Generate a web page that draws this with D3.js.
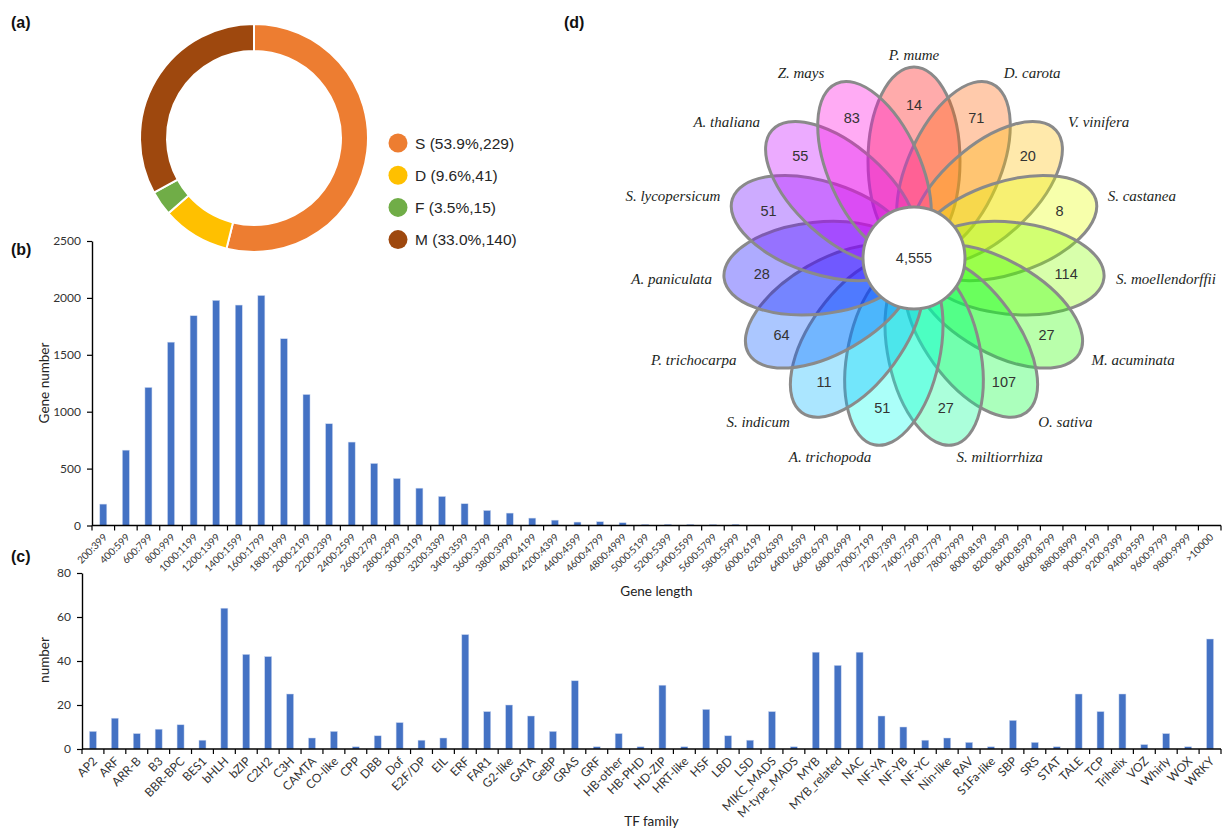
<!DOCTYPE html>
<html>
<head>
<meta charset="utf-8">
<script src="https://cdn.jsdelivr.net/npm/d3@7"></script>
<style>
  body { margin: 0; background: #fff; }
  svg { display: block; }
</style>
</head>
<body>
<svg id="fig" width="1222" height="828"></svg>
<script>
// ---- (a) duplication types
const dupTypes = ["S", "D", "F", "M"];
const dupCounts = [229, 41, 15, 140];
const dupLabels = ["S (53.9%,229)", "D (9.6%,41)", "F (3.5%,15)", "M (33.0%,140)"];
const dupColors = ["#ED7D31", "#FFC000", "#70AD47", "#9E480E"];

// ---- (b) gene length distribution
const lengthBins = ["200:399", "400:599", "600:799", "800:999", "1000:1199", "1200:1399", "1400:1599",
  "1600:1799", "1800:1999", "2000:2199", "2200:2399", "2400:2599", "2600:2799", "2800:2999",
  "3000:3199", "3200:3399", "3400:3599", "3600:3799", "3800:3999", "4000:4199", "4200:4399",
  "4400:4599", "4600:4799", "4800:4999", "5000:5199", "5200:5399", "5400:5599", "5600:5799",
  "5800:5999", "6000:6199", "6200:6399", "6400:6599", "6600:6799", "6800:6999", "7000:7199",
  "7200:7399", "7400:7599", "7600:7799", "7800:7999", "8000:8199", "8200:8399", "8400:8599",
  "8600:8799", "8800:8999", "9000:9199", "9200:9399", "9400:9599", "9600:9799", "9800:9999", ">10000"];
const lengthCounts = [188, 662, 1213, 1611, 1843, 1978, 1937, 2021, 1641, 1151, 894, 733, 545, 413,
  328, 255, 191, 132, 109, 65, 47, 30, 33, 24, 9, 10, 9, 8, 10, 3, 2, 2, 1, 1, 1, 0, 0, 0, 0, 0,
  0, 0, 0, 0, 0, 0, 0, 0, 0, 0];
const lengthTicks = [0, 500, 1000, 1500, 2000, 2500];

// ---- (c) TF families
const tfFamilies = ["AP2", "ARF", "ARR-B", "B3", "BBR-BPC", "BES1", "bHLH", "bZIP", "C2H2", "C3H",
  "CAMTA", "CO-like", "CPP", "DBB", "Dof", "E2F/DP", "EIL", "ERF", "FAR1", "G2-like", "GATA", "GeBP",
  "GRAS", "GRF", "HB-other", "HB-PHD", "HD-ZIP", "HRT-like", "HSF", "LBD", "LSD", "MIKC_MADS",
  "M-type_MADS", "MYB", "MYB_related", "NAC", "NF-YA", "NF-YB", "NF-YC", "Nin-like", "RAV",
  "S1Fa-like", "SBP", "SRS", "STAT", "TALE", "TCP", "Trihelix", "VOZ", "Whirly", "WOX", "WRKY"];
const tfCounts = [8, 14, 7, 9, 11, 4, 64, 43, 42, 25, 5, 8, 1, 6, 12, 4, 5, 52, 17, 20, 15, 8, 31, 1,
  7, 1, 29, 1, 18, 6, 4, 17, 1, 44, 38, 44, 15, 10, 4, 5, 3, 1, 13, 3, 1, 25, 17, 25, 2, 7, 1, 50];
const tfTicks = [0, 20, 40, 60, 80];

// ---- (d) flower plot
const species = ["P. mume", "D. carota", "V. vinifera", "S. castanea", "S. moellendorffii",
  "M. acuminata", "O. sativa", "S. miltiorrhiza", "A. trichopoda", "S. indicum", "P. trichocarpa",
  "A. paniculata", "S. lycopersicum", "A. thaliana", "Z. mays"];
const uniqueCounts = [14, 71, 20, 8, 114, 27, 107, 27, 51, 11, 64, 28, 51, 55, 83];
const coreCount = 4555;

const svg = d3.select("#fig");
const axisFont = "Lato, 'Liberation Sans', sans-serif";
const arialFont = "'Liberation Sans', Arial, sans-serif";
const barBlue = "#4472C4";

// panel letters
[["(a)", 11, 28], ["(b)", 11, 255], ["(c)", 11, 562], ["(d)", 564, 28]].forEach(([t, x, y]) => {
  svg.append("text").attr("x", x).attr("y", y).text(t)
    .style("font-family", arialFont).style("font-weight", "bold").style("font-size", "16px")
    .attr("fill", "#111");
});

// ================= (a) donut
const gA = svg.append("g").attr("transform", "translate(254,138)");
const pie = d3.pie().sort(null).value(d => d)(dupCounts);
const arc = d3.arc().innerRadius(87).outerRadius(114);
gA.selectAll("path")
  .data(pie)
  .join("path")
  .attr("d", arc)
  .attr("fill", (d, i) => dupColors[i])
  .attr("stroke", "#fff")
  .attr("stroke-width", 2);

const legend = svg.append("g").attr("transform", "translate(398,143)");
const legItem = legend.selectAll("g")
  .data(dupTypes)
  .join("g")
  .attr("transform", (d, i) => `translate(0,${i * 32.2})`);
legItem.append("circle").attr("r", 9.5).attr("fill", (d, i) => dupColors[i]);
legItem.append("text")
  .attr("x", 17).attr("dy", "0.36em")
  .text((d, i) => dupLabels[i])
  .style("font-family", arialFont).style("font-size", "15.5px")
  .attr("fill", "#262626");

// ================= bar panels
function barPanel(cfg) {
  const g = svg.append("g");
  const xb = d3.scaleBand().domain(cfg.cats).range([cfg.x0, cfg.x1]);
  const y = d3.scaleLinear().domain([0, cfg.yMax]).range([cfg.yBot, cfg.yTop]);
  const bw = 7;

  g.selectAll("rect")
    .data(cfg.vals)
    .join("rect")
    .attr("x", (d, i) => xb(cfg.cats[i]) + xb.bandwidth() / 2 - bw / 2)
    .attr("y", d => y(d))
    .attr("width", bw)
    .attr("height", d => cfg.yBot - y(d))
    .attr("fill", barBlue)
    .attr("stroke", "#c9d6ef")
    .attr("stroke-width", 0.5);

  // y axis
  const ya = g.append("g")
    .attr("transform", `translate(${cfg.x0},0)`)
    .call(d3.axisLeft(y).tickValues(cfg.yTicks).tickFormat(d3.format("d"))
      .tickSize(5).tickSizeOuter(0).tickPadding(6));
  ya.select(".domain").attr("stroke", "#000").attr("stroke-width", 1.4);
  ya.selectAll(".tick line").attr("stroke", "#000").attr("stroke-width", 1.2);
  ya.selectAll("text").style("font-family", axisFont).style("font-size", "12px").attr("fill", "#333");

  // x axis line + boundary ticks
  g.append("line")
    .attr("x1", cfg.x0).attr("x2", cfg.x1)
    .attr("y1", cfg.yBot).attr("y2", cfg.yBot)
    .attr("stroke", "#000").attr("stroke-width", 1.6);
  const bounds = cfg.cats.map(c => xb(c)).concat([cfg.x1]);
  g.selectAll(".xtick")
    .data(bounds)
    .join("line")
    .attr("class", "xtick")
    .attr("x1", d => d).attr("x2", d => d)
    .attr("y1", cfg.yBot).attr("y2", cfg.yBot + 5)
    .attr("stroke", "#000").attr("stroke-width", 1.2);

  // rotated category labels
  g.selectAll(".xlab")
    .data(cfg.cats)
    .join("text")
    .attr("class", "xlab")
    .attr("transform", d => `translate(${xb(d) + xb.bandwidth() / 2 + 2},${cfg.yBot + 10}) rotate(-45)`)
    .attr("text-anchor", "end")
    .attr("dy", "0.35em")
    .text(d => d)
    .style("font-family", axisFont).style("font-size", cfg.catSize)
    .attr("fill", "#333");

  // axis titles
  g.append("text")
    .attr("transform", `translate(44,${cfg.yLabelY}) rotate(-90)`)
    .attr("text-anchor", "middle").attr("dy", "0.35em")
    .text(cfg.yLabel)
    .style("font-family", axisFont).style("font-size", "13.5px").attr("fill", "#222");
  g.append("text")
    .attr("x", (cfg.x0 + cfg.x1) / 2).attr("y", cfg.xLabelY)
    .attr("text-anchor", "middle").attr("dy", "0.35em")
    .text(cfg.xLabel)
    .style("font-family", axisFont).style("font-size", "13.5px").attr("fill", "#222");
}

barPanel({
  cats: lengthBins, vals: lengthCounts, x0: 92, x1: 1221, yTop: 241, yBot: 525.5,
  yMax: 2500, yTicks: lengthTicks, yLabel: "Gene number", yLabelY: 383,
  xLabel: "Gene length", xLabelY: 591, catSize: "10px"
});

barPanel({
  cats: tfFamilies, vals: tfCounts, x0: 82, x1: 1221, yTop: 573, yBot: 749,
  yMax: 80, yTicks: tfTicks, yLabel: "number", yLabelY: 660,
  xLabel: "TF family", xLabelY: 821, catSize: "12px"
});

// ================= (d) flower
const fc = [914, 258];
const tipR = 191, petalD = 97, petalA = 94, petalB = 46, coreR = 51;
const step = 360 / species.length;
const rad = a => a * Math.PI / 180;

const gD = svg.append("g").attr("transform", `translate(${fc[0]},${fc[1]})`);

gD.selectAll("ellipse")
  .data(species)
  .join("ellipse")
  .attr("cx", 0).attr("cy", -petalD)
  .attr("rx", petalB).attr("ry", petalA)
  .attr("transform", (d, i) => `rotate(${i * step})`)
  .attr("fill", (d, i) => d3.hsl(i * 22, 1, 0.5).toString())
  .attr("fill-opacity", 0.33)
  .attr("stroke", "#8a8a8a")
  .attr("stroke-width", 3);

gD.append("circle").attr("r", coreR).attr("fill", "#fff")
  .attr("stroke", "#8a8a8a").attr("stroke-width", 3);
gD.append("text").attr("text-anchor", "middle").attr("dy", "0.35em")
  .text(d3.format(",")(coreCount))
  .style("font-family", arialFont).style("font-size", "14.5px").attr("fill", "#333");

// unique counts
gD.selectAll(".uc")
  .data(uniqueCounts)
  .join("text")
  .attr("class", "uc")
  .attr("x", (d, i) => 153 * Math.sin(rad(i * step)))
  .attr("y", (d, i) => -153 * Math.cos(rad(i * step)))
  .attr("text-anchor", "middle").attr("dy", "0.35em")
  .text(d => d)
  .style("font-family", arialFont).style("font-size", "14.5px").attr("fill", "#333");

// species names next to petal tips
gD.selectAll(".sp")
  .data(species)
  .join("text")
  .attr("class", "sp")
  .attr("text-anchor", "middle").attr("dy", "0.35em")
  .text(d => d)
  .style("font-family", "'Liberation Serif', 'Times New Roman', serif")
  .style("font-style", "italic").style("font-size", "15px")
  .attr("fill", "#1c261c")
  .each(function(d, i) {
    const a = rad(i * step);
    const s = Math.sin(a), c = Math.cos(a);
    const w = this.getComputedTextLength();
    const k = Math.sign(s) * Math.min(1, Math.abs(s) * 4);
    const x = tipR * s + k * (w / 2 + 12);
    const y = -tipR * c - 12 * c;
    d3.select(this).attr("x", x).attr("y", y);
  });
</script>
</body>
</html>
